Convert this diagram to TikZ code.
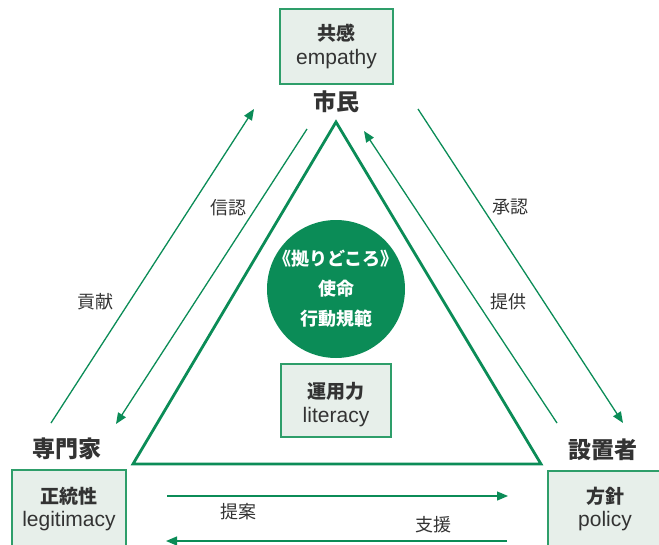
\documentclass[tikz,border=0pt]{standalone}
\usepackage{fontspec}
\setmainfont{Liberation Sans}
\newfontfamily\jp{Noto Sans CJK JP}
\usetikzlibrary{arrows.meta}
\definecolor{grn}{HTML}{0B8C57}
\definecolor{boxfill}{HTML}{E7EFEA}
\definecolor{boxline}{HTML}{2E9E6A}
\definecolor{txt}{HTML}{333333}
\tikzset{
  pbox/.style={draw=boxline, line width=1.2pt, fill=boxfill},
  lbl/.style={text=txt, font=\jp\fontsize{18}{21}\selectfont, inner sep=0pt},
  role/.style={text=txt, font=\jp\bfseries\fontsize{23}{27}\selectfont, inner sep=0pt},
  btitle/.style={text=txt, font=\jp\bfseries\fontsize{19}{22}\selectfont, inner sep=0pt},
  blatin/.style={text=txt, font=\fontsize{21}{24}\selectfont, inner sep=0pt},
  flow/.style={draw=grn, line width=1.3pt, -{Triangle[length=11pt,width=9pt]}},
}
\begin{document}
\begin{tikzpicture}[x=1pt,y=-1pt]
\useasboundingbox (0,0) rectangle (659,544);
\clip (0,0) rectangle (659,544);
% boxes
\draw[pbox] (280,9) rectangle (393,84);
\node[btitle] (kyokan) at (336.5,33) {共感};
\node[blatin] (empathy) at (336.5,59) {empathy};
\node[role] (shimin) at (336,102) {市民};

\draw[pbox] (12,470) rectangle (126,560);
\node[btitle] (seitou) at (69,496) {正統性};
\node[blatin] (legit) at (69,521) {legitimacy};
\node[role] (senmon) at (67,449) {専門家};

\draw[pbox] (548,471) rectangle (680,560);
\node[btitle] (houshin) at (605,496) {方針};
\node[blatin] (policy) at (605,521) {policy};
\node[role] (setchi) at (603,450) {設置者};

% triangle
\coordinate (tA) at (336,122);
\coordinate (tL) at (133,464);
\coordinate (tR) at (541,464);
\draw[grn, line width=2.8pt, line join=miter] (tA) -- (tL) -- (tR) -- cycle;

% circle
\node[circle, fill=grn, minimum size=138pt, inner sep=0pt] (core) at (336,289) {};
\node[text=white, font=\jp\bfseries\fontsize{18}{20}\selectfont, inner sep=0pt] (c1) at (336,259) {《拠りどころ》};
\node[text=white, font=\jp\bfseries\fontsize{18}{20}\selectfont, inner sep=0pt] (c2) at (336,289) {使命};
\node[text=white, font=\jp\bfseries\fontsize{18}{20}\selectfont, inner sep=0pt] (c3) at (336,319) {行動規範};

% literacy box
\draw[pbox] (281,364) rectangle (391,437);
\node[btitle] (unyou) at (336,391) {運用力};
\node[blatin] (literacy) at (336,417) {literacy};

% arrows left
\coordinate (a1s) at (51,423); \coordinate (a1e) at (254,109);
\coordinate (a2s) at (307,129); \coordinate (a2e) at (116,424);
\draw[flow] (a1s) -- (a1e);
\draw[flow] (a2s) -- (a2e);
\node[lbl] (kouken) at (95,302) {貢献};
\node[lbl] (shinnin) at (228,208) {信認};

% arrows right
\coordinate (a3s) at (418,109); \coordinate (a3e) at (623,423);
\coordinate (a4s) at (557,423); \coordinate (a4e) at (364,131);
\draw[flow] (a3s) -- (a3e);
\draw[flow] (a4s) -- (a4e);
\node[lbl] (shounin) at (510,207) {承認};
\node[lbl] (teikyou) at (508,302) {提供};

% bottom arrows
\coordinate (b1s) at (167,496); \coordinate (b1e) at (508,496);
\coordinate (b2s) at (507,541); \coordinate (b2e) at (166,541);
\draw[flow] (b1s) -- (b1e);
\draw[flow] (b2s) -- (b2e);
\node[lbl] (teian) at (238,512) {提案};
\node[lbl] (shien) at (433,525) {支援};
\end{tikzpicture}
\end{document}
